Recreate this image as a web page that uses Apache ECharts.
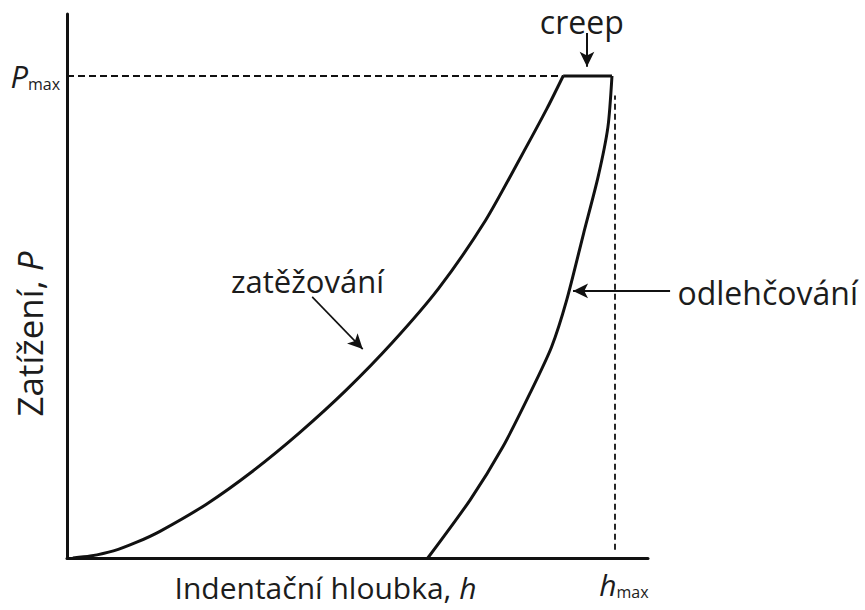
<!DOCTYPE html>
<html>
<head>
<meta charset="utf-8">
<title>Indentační křivka</title>
<script src="https://cdn.jsdelivr.net/npm/echarts@6.0.0/dist/echarts.min.js"></script>
<style>
  html, body { margin: 0; padding: 0; background: #fff; }
  #chart { width: 865px; height: 610px; }
</style>
</head>
<body>
<div id="chart"></div>
<script>
// Loading branch (zatěžování): indentation depth h vs load P, arbitrary units
const hLoad = [1, 4, 8, 12, 16, 24, 32, 40, 48, 56, 64, 72, 78, 82.6, 85.4];
const pLoad = [0, 0.35, 1.3, 2.9, 4.9, 9.9, 16.0, 23.0, 30.8, 39.6, 49.6, 62.0, 73.5, 82.6, 88.6];

// Creep hold at maximum load
const hCreep = [85.4, 93.8];
const pCreep = [88.6, 88.6];

// Unloading branch (odlehčování)
const hUnload = [62.1, 69.4, 75.0, 79.7, 83.4, 86.0, 88.9, 91.4, 93.1, 93.8];
const pUnload = [0, 10.7, 20.4, 30.3, 38.8, 47.4, 59.6, 70.0, 79.2, 88.6];

// Reference levels
const P_MAX = 88.6;
const H_MAX = 94.3;

// Axis ranges
const H_AXIS_MAX = 100;
const P_AXIS_MAX = 100;

// Annotation arrows: [h_from, P_from, h_to, P_to]
const arrowCreep = [89.5, 96.5, 89.5, 90.3];
const arrowLoad = [42.2, 48.0, 50.9, 38.4];
const arrowUnload = [103.8, 49.1, 87.1, 49.1];

// Annotation texts: [text, h, P, font size]
const textCreep = ['creep', 88.6, 98.7, 32];
const textLoad = ['zatěžování', 41.4, 51.0, 31];
const textUnload = ['odlehčování', 120.6, 48.8, 32];

const W = 865, H = 610;
const GRID = { left: 67, right: 217, top: 14, bottom: 52 };
const plotW = W - GRID.left - GRID.right;
const plotH = H - GRID.top - GRID.bottom;

const INK = '#111';
const TXT = '#1c1c1c';
const FONT = '"Open Sans", "Noto Sans", sans-serif';

const zip = (a, b) => a.map((v, i) => [v, b[i]]);

const chart = echarts.init(document.getElementById('chart'), null, { renderer: 'svg' });

const hiddenAxis = {
  show: false, type: 'value',
  axisLine: { show: false }, axisTick: { show: false },
  axisLabel: { show: false }, splitLine: { show: false }
};

function arrow(a, width) {
  return [
    { coord: [a[0], a[1]], symbol: 'none' },
    { coord: [a[2], a[3]], symbol: 'arrow', symbolSize: [11, 15],
      lineStyle: { color: INK, width: width } }
  ];
}

function textPoint(t) {
  return {
    coord: [t[1], t[2]],
    symbol: 'circle', symbolSize: 1,
    itemStyle: { color: 'rgba(0,0,0,0)' },
    label: {
      show: true, position: 'inside', formatter: t[0],
      color: TXT, fontFamily: FONT, fontSize: t[3], lineHeight: t[3]
    }
  };
}

const subRich = {
  p: { fontFamily: FONT, fontStyle: 'italic', fontSize: 31, color: TXT, verticalAlign: 'bottom' },
  h: { fontFamily: FONT, fontStyle: 'italic', fontSize: 30, color: TXT, verticalAlign: 'bottom' },
  s: { fontFamily: FONT, fontSize: 16, color: TXT, verticalAlign: 'bottom' }
};

const option = {
  animation: false,
  backgroundColor: '#fff',
  grid: [
    Object.assign({ outerBoundsMode: 'none', containLabel: false }, GRID),
    // annotation layer: same scale, extended to the canvas edges
    { left: GRID.left, right: 0, top: 0, bottom: GRID.bottom, outerBoundsMode: 'none', containLabel: false }
  ],
  xAxis: [
    {
      gridIndex: 0, type: 'value', min: 0, max: H_AXIS_MAX,
      axisLine: { show: true, onZero: false, lineStyle: { color: INK, width: 3 } },
      axisTick: { show: false }, axisLabel: { show: false }, splitLine: { show: false },
      name: '{t|Indentační hloubka, }{i|h}',
      nameLocation: 'middle', nameGap: 14,
      nameTextStyle: {
        padding: [0, 64, 0, 0],
        rich: {
          t: { fontFamily: FONT, fontSize: 30, color: TXT },
          i: { fontFamily: FONT, fontSize: 30, fontStyle: 'italic', color: TXT }
        }
      }
    },
    Object.assign({ gridIndex: 1, min: 0, max: H_AXIS_MAX * (W - GRID.left) / plotW }, hiddenAxis)
  ],
  yAxis: [
    {
      gridIndex: 0, type: 'value', min: 0, max: P_AXIS_MAX,
      axisLine: { show: true, onZero: false, lineStyle: { color: INK, width: 3 } },
      axisTick: { show: false }, axisLabel: { show: false }, splitLine: { show: false },
      name: '{t|Zatížení, }{i|P}',
      nameLocation: 'middle', nameGap: 20, nameRotate: 90,
      nameTextStyle: {
        padding: [0, 96, 0, 0],
        rich: {
          t: { fontFamily: FONT, fontSize: 35, color: TXT },
          i: { fontFamily: FONT, fontSize: 35, fontStyle: 'italic', color: TXT }
        }
      }
    },
    Object.assign({ gridIndex: 1, min: 0, max: P_AXIS_MAX * (H - GRID.bottom) / plotH }, hiddenAxis)
  ],
  series: [
    {
      name: 'zatěžování', type: 'line', xAxisIndex: 0, yAxisIndex: 0,
      data: zip(hLoad, pLoad), smooth: 0.25,
      showSymbol: false, silent: true,
      lineStyle: { color: INK, width: 3 },
      markLine: {
        silent: true, symbol: 'none', animation: false,
        lineStyle: { color: INK, width: 1.8, type: [7, 4] },
        label: {
          show: true, position: 'start', distance: 7,
          formatter: '{p|P}{s|max}', rich: subRich
        },
        data: [[{ coord: [0, P_MAX] }, { coord: [hLoad[hLoad.length - 1], P_MAX] }]]
      }
    },
    {
      name: 'creep', type: 'line', xAxisIndex: 0, yAxisIndex: 0,
      data: zip(hCreep, pCreep), showSymbol: false, silent: true,
      lineStyle: { color: INK, width: 3 }
    },
    {
      name: 'odlehčování', type: 'line', xAxisIndex: 0, yAxisIndex: 0,
      data: zip(hUnload, pUnload), smooth: 0.25,
      showSymbol: false, silent: true,
      lineStyle: { color: INK, width: 3 },
      markLine: {
        silent: true, symbol: 'none', animation: false,
        lineStyle: { color: INK, width: 1.8, type: [6, 4] },
        label: {
          show: true, position: 'start', distance: 20,
          formatter: '{h|h}{s|max}', rich: subRich, padding: [0, 0, 0, 18]
        },
        data: [[{ coord: [H_MAX, 1.5] }, { coord: [H_MAX, 85.0] }]]
      }
    },
    {
      name: 'popisky', type: 'line', xAxisIndex: 1, yAxisIndex: 1,
      data: [], silent: true,
      markLine: {
        silent: true, animation: false,
        label: { show: false },
        lineStyle: { color: INK, width: 2, type: 'solid' },
        data: [arrow(arrowCreep, 2), arrow(arrowLoad, 1.6), arrow(arrowUnload, 2)]
      },
      markPoint: {
        silent: true, animation: false,
        data: [textPoint(textCreep), textPoint(textLoad), textPoint(textUnload)]
      }
    }
  ]
};

chart.setOption(option);
</script>
</body>
</html>
